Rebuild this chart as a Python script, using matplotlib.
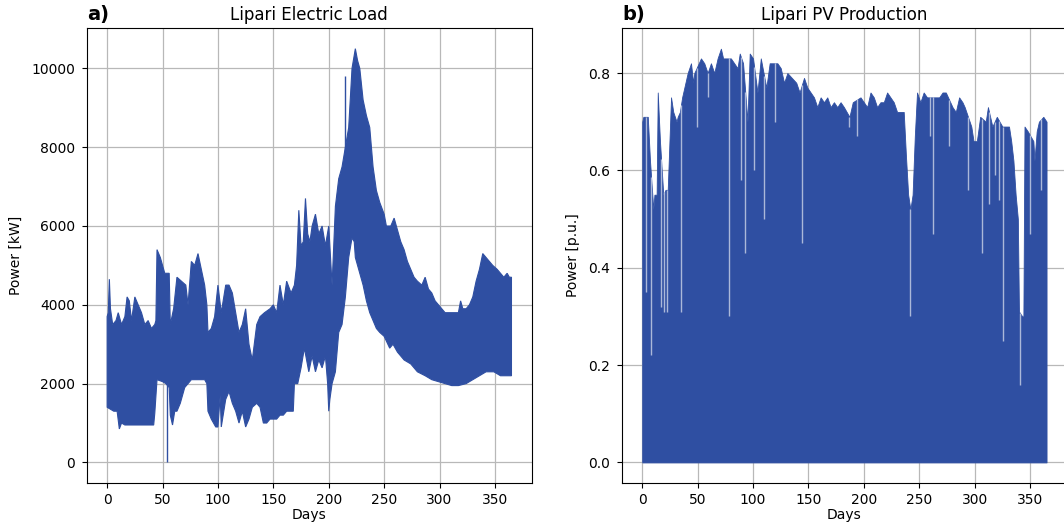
import numpy as np
import matplotlib
matplotlib.use('Agg')
import matplotlib.pyplot as plt


# =========================
# DATA
# =========================
# Electric load: upper / lower envelope of the hourly curve [kW]
load_top_days = [0, 1, 2, 3, 5, 8, 10, 13, 16, 18, 20, 22, 25, 28, 31, 34, 37, 40, 43, 44,
                 45, 48, 52, 56, 57, 60, 63, 67, 71, 73, 76, 79, 82, 85, 88, 90, 91, 94, 97, 100,
                 103, 107, 110, 113, 116, 119, 122, 125, 128, 131, 135, 138, 142, 147, 150, 153,
                 156, 159, 162, 166, 169, 171, 173, 175, 177, 179, 181, 183, 185, 188, 191, 194,
                 197, 200, 202, 203, 206, 209, 212, 215, 218, 221, 224, 226, 228, 231, 234, 237,
                 240, 243, 246, 250, 252, 256, 259, 262, 265, 268, 271, 274, 277, 280, 284, 287,
                 290, 293, 296, 299, 302, 305, 308, 311, 314, 317, 319, 321, 324, 327, 330, 333,
                 336, 339, 342, 345, 348, 352, 355, 358, 361, 363, 364.9]
load_top_kw = [3700, 3800, 4650, 3900, 3500, 3600, 3800, 3500, 3700, 4200, 4100, 3600, 4200, 4000,
               3800, 3500, 3600, 3400, 3500, 3600, 5400, 5200, 4800, 4800, 3500, 3900, 4700, 4600,
               4500, 4000, 5100, 5000, 5300, 4900, 4500, 4000, 3300, 3400, 3700, 4500, 3800, 4500,
               4500, 4300, 3800, 3300, 3500, 3900, 3000, 2600, 3500, 3700, 3800, 3900, 4000, 3800,
               4500, 4000, 4600, 4300, 4500, 5000, 6400, 5500, 5600, 6700, 5800, 5600, 6000, 6300,
               5800, 6000, 5500, 6000, 5000, 4500, 6500, 7200, 7500, 8000, 8500, 10000, 10500,
               10200, 10000, 9200, 8800, 8500, 7500, 6900, 6600, 6300, 6000, 6000, 6200, 5900,
               5600, 5400, 5100, 4900, 4700, 4600, 4500, 4700, 4400, 4300, 4100, 4000, 3900, 3800,
               3800, 3800, 3800, 3800, 4100, 3900, 3900, 4000, 4200, 4600, 4900, 5300, 5200, 5100,
               5000, 4900, 4800, 4700, 4800, 4700, 4700]

load_low_days = [0, 3, 6, 9, 11, 13, 16, 20, 25, 30, 35, 40, 42, 43, 45, 50, 53, 56, 57, 59,
                 61, 63, 66, 70, 73, 76, 80, 85, 88, 90, 91, 94, 98, 100, 102, 103, 107, 110,
                 113, 116, 119, 122, 125, 128, 131, 135, 138, 141, 144, 147, 150, 153, 156, 159,
                 162, 166, 168, 169, 172, 175, 178, 182, 185, 188, 191, 194, 197, 199, 200, 201,
                 203, 206, 209, 212, 215, 218, 221, 223, 224, 228, 231, 234, 237, 240, 243, 246,
                 250, 255, 258, 262, 265, 268, 274, 280, 287, 293, 299, 305, 311, 317, 324, 330,
                 336, 342, 349, 355, 361, 364.9]
load_low_kw = [1400, 1350, 1300, 1300, 850, 1000, 950, 950, 950, 950, 950, 950, 950, 1250, 2100,
               2050, 2000, 1900, 1200, 950, 1300, 1300, 1500, 1900, 2000, 2100, 2100, 2100, 2100,
               2000, 1300, 1100, 900, 900, 1700, 900, 1600, 1800, 1500, 1300, 1000, 1300, 900, 1100,
               1400, 1500, 1400, 1000, 1000, 1100, 1100, 1100, 1200, 1200, 1300, 1300, 1300, 2000,
               2000, 2400, 2900, 2300, 2700, 2300, 2600, 2400, 2700, 2000, 1300, 1600, 2000, 2300,
               3300, 3500, 4200, 5200, 5700, 5600, 5200, 4800, 4500, 4100, 3800, 3600, 3400, 3300,
               3200, 2900, 3000, 2800, 2700, 2600, 2500, 2300, 2200, 2100, 2050, 2000, 1950, 1950,
               2000, 2100, 2200, 2300, 2300, 2200, 2200, 2200]

# isolated hourly spikes of the load
load_spike_days = [54, 215]
load_spike_lo = [0, 6500]
load_spike_hi = [2000, 9800]

# PV production: daily peak [p.u.]
pv_days = [0, 1, 5, 7, 10, 11, 13, 14, 16, 19, 21, 23, 26, 28, 31, 32, 34, 36, 38, 41, 44, 46,
           47, 53, 56, 59, 62, 65, 68, 71, 73, 76, 80, 83, 86, 88, 91, 95, 97, 100, 104, 107,
           112, 115, 118, 122, 125, 128, 131, 135, 139, 142, 146, 149, 152, 155, 158, 161, 164,
           167, 170, 173, 176, 179, 182, 187, 190, 197, 200, 203, 206, 209, 212, 215, 218, 221,
           224, 227, 230, 233, 236, 238, 240, 242, 244, 246, 248, 251, 254, 257, 265, 268, 271,
           274, 280, 283, 286, 289, 291, 297, 299, 302, 305, 310, 312, 316, 320, 325, 328, 331,
           333, 335, 337, 339, 340, 343, 344, 345, 348, 353, 354, 356, 358, 362, 364.9]
pv_peak = [0.70, 0.71, 0.71, 0.62, 0.52, 0.55, 0.55, 0.76, 0.66, 0.55, 0.56, 0.56, 0.75, 0.72,
           0.70, 0.71, 0.72, 0.75, 0.77, 0.80, 0.82, 0.78, 0.80, 0.83, 0.82, 0.80, 0.82, 0.80,
           0.83, 0.85, 0.83, 0.83, 0.83, 0.82, 0.81, 0.84, 0.82, 0.70, 0.84, 0.83, 0.76, 0.83,
           0.77, 0.82, 0.82, 0.82, 0.81, 0.78, 0.80, 0.79, 0.78, 0.76, 0.79, 0.77, 0.76, 0.75,
           0.73, 0.75, 0.74, 0.75, 0.73, 0.74, 0.73, 0.74, 0.73, 0.71, 0.74, 0.75, 0.74, 0.73,
           0.76, 0.75, 0.73, 0.74, 0.74, 0.76, 0.75, 0.74, 0.72, 0.72, 0.72, 0.63, 0.55, 0.52,
           0.55, 0.67, 0.76, 0.74, 0.76, 0.75, 0.75, 0.75, 0.76, 0.76, 0.73, 0.72, 0.75, 0.74,
           0.73, 0.69, 0.66, 0.66, 0.71, 0.70, 0.73, 0.69, 0.71, 0.69, 0.69, 0.69, 0.66, 0.62,
           0.55, 0.50, 0.31, 0.30, 0.30, 0.69, 0.68, 0.66, 0.62, 0.68, 0.70, 0.71, 0.70]

# single cloudy days cutting into the PV envelope
pv_dip_days = [3, 8, 17, 20, 22, 35, 49, 59, 78, 89, 93, 101, 110, 120, 144, 187, 194, 242,
               260, 262, 277, 294, 307, 313, 318, 322, 326, 341, 350, 360]
pv_dip_val = [0.35, 0.22, 0.32, 0.31, 0.31, 0.31, 0.69, 0.75, 0.30, 0.58, 0.43, 0.60, 0.50,
              0.70, 0.45, 0.69, 0.67, 0.30, 0.67, 0.47, 0.65, 0.56, 0.43, 0.53, 0.59, 0.54,
              0.25, 0.16, 0.47, 0.56]

BLUE = '#2f4fa2'


def add_panel(ax, letter, title, ylabel):
    ax.set_title(title, fontsize=12, pad=6)
    ax.text(0.0, 1.018, letter, transform=ax.transAxes, fontsize=14,
            fontweight='bold', ha='left', va='baseline')
    ax.set_xlabel('Days', fontsize=10, labelpad=1)
    ax.set_ylabel(ylabel, fontsize=10, labelpad=6)
    ax.tick_params(labelsize=10)
    ax.tick_params(axis='y', pad=5)
    ax.grid(True, color='#b8b8b8', linewidth=0.9)
    ax.set_axisbelow(True)
    ax.set_xticks(np.arange(0, 351, 50))


fig = plt.figure(figsize=(10.64, 5.28), dpi=100)
ax1 = fig.add_axes([0.0817, 0.085, 0.418, 0.862])
ax2 = fig.add_axes([0.5846, 0.085, 0.418, 0.862])

# a) electric load: band between lower and upper envelope
band_x = np.r_[load_top_days, load_low_days[::-1]]
band_y = np.r_[load_top_kw, load_low_kw[::-1]]
ax1.fill(band_x, band_y, color=BLUE, linewidth=0.8, edgecolor=BLUE)
ax1.vlines(load_spike_days, load_spike_lo, load_spike_hi, color=BLUE, linewidth=1.0)
ax1.margins(x=0.05, y=0.05)
ax1.set_yticks([0, 2000, 4000, 6000, 8000, 10000])
add_panel(ax1, 'a)', 'Lipari Electric Load', 'Power [kW]')

# b) PV production
ax2.fill_between(pv_days, 0, pv_peak, color=BLUE, linewidth=0.6, edgecolor=BLUE)
pv_dip_top = np.interp(pv_dip_days, pv_days, pv_peak)
ax2.vlines(pv_dip_days, pv_dip_val, pv_dip_top, color='white', alpha=0.6, linewidth=1.0)
ax2.set_ylim(-0.0425, 0.8925)
ax2.set_yticks([0.0, 0.2, 0.4, 0.6, 0.8])
add_panel(ax2, 'b)', 'Lipari PV Production', 'Power [p.u.]')

fig.savefig('out.png', dpi=100)
plt.close(fig)
